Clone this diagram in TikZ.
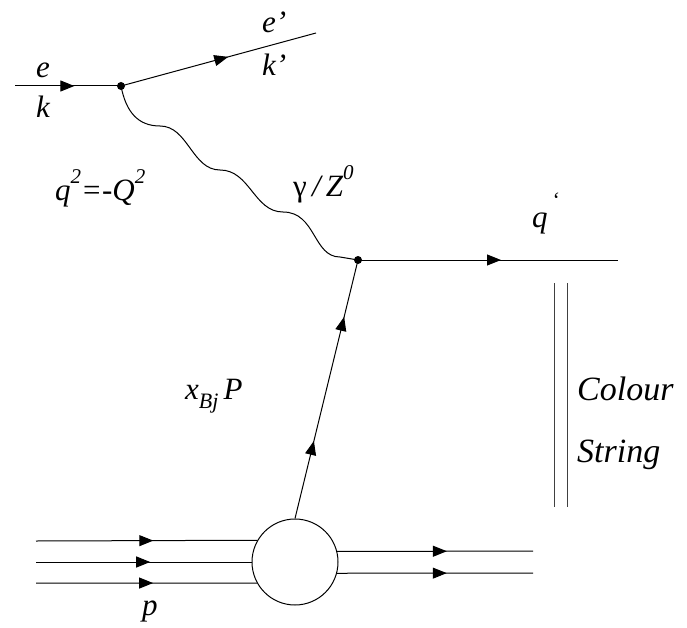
\documentclass[tikz,border=0pt]{standalone}
\usepackage{fontspec}
\setmainfont{Liberation Serif}
\newfontfamily\lsf{Liberation Serif}
\usetikzlibrary{arrows.meta,decorations.markings}
\begin{document}
\begin{tikzpicture}[x=1pt,y=-1pt,
  ln/.style={line width=1pt},
  arr/.style={postaction={decorate},decoration={markings,mark=at position #1 with {\arrow{Triangle[length=14pt,width=11pt]}}}},
  arrtwo/.style 2 args={postaction={decorate},decoration={markings,
     mark=at position #1 with {\arrow{Triangle[length=14pt,width=11pt]}},
     mark=at position #2 with {\arrow{Triangle[length=14pt,width=11pt]}}}},
  lbl/.style={font=\fontsize{31}{36}\selectfont\lsf\itshape, inner sep=0pt, anchor=base west},
  big/.style={font=\fontsize{34}{40}\selectfont\lsf\itshape, inner sep=0pt, anchor=base west},
  vdot/.style={circle,fill=black,inner sep=0pt,minimum size=8pt},
  strline/.style={line width=1pt, black!75}]
\useasboundingbox (0,0) rectangle (687,628);
% vertices
\coordinate (ein) at (15,86);
\node[vdot] (v1) at (121,86) {};
\coordinate (eout) at (316,33);
\node[vdot] (v2) at (358,260) {};
\coordinate (qout) at (618,260);
\node[circle,draw,line width=1pt,minimum size=86pt,inner sep=0pt] (blob) at (295,562) {};
% electron lines
\draw[ln,arr=0.56] (ein) -- (v1.center);
\draw[ln,arr=0.55] (v1.center) -- (eout);
% photon
\draw[ln] (v1.center) .. controls (126,112) and (138,126) .. (160,126)
  .. controls (188,126) and (192,170) .. (220,170)
  .. controls (250,170) and (254,212) .. (283,212)
  .. controls (316,212) and (313,257) .. (340,257) -- (v2.center);
% outgoing quark
\draw[ln,arr=0.55] (v2.center) -- (qout);
% quark from proton
\draw[ln,arrtwo={0.3}{0.78}] (blob.north) -- (v2.center);
% proton lines
\coordinate (p1) at (36,541);
\coordinate (p2) at (36,562);
\coordinate (p3) at (36,583);
\draw[ln,arr=0.53] (p1) -- (blob.150.8);
\draw[ln,arr=0.53] (p2) -- (blob.west);
\draw[ln,arr=0.53] (p3) -- (blob.209.2);
\coordinate (r1) at (533,551);
\coordinate (r2) at (533,573);
\draw[ln,arr=0.56] (blob.14.8) -- (r1);
\draw[ln,arr=0.56] (blob.345.2) -- (r2);
% colour string
\coordinate (s1a) at (554,283);
\coordinate (s1b) at (554,507);
\coordinate (s2a) at (567,283);
\coordinate (s2b) at (567,507);
\draw[strline] (s1a) -- (s1b);
\draw[strline] (s2a) -- (s2b);
% labels
\node[lbl] (le) at (36,78) {e};
\node[lbl] (lk) at (36,118) {k};
\node[lbl] (lep) at (262,33) {e’};
\node[lbl] (lkp) at (262,76) {k’};
\node[lbl] (lq2) at (55,201) {q\raisebox{0.55em}{\fontsize{21}{21}\selectfont 2}=-Q\raisebox{0.55em}{\fontsize{21}{21}\selectfont 2}};
\node[lbl] (lgz) at (293,197) {{\upshape γ}\,/\,Z\raisebox{0.55em}{\fontsize{21}{21}\selectfont 0}};
\node[lbl] (lqp) at (532,227) {q\kern4pt\raisebox{20pt}{\fontsize{22}{22}\selectfont ‘}};
\node[lbl] (lx) at (185,399) {x\raisebox{-0.3em}{\fontsize{22}{22}\selectfont Bj}\,P};
\node[big] (lc) at (577,400) {Colour};
\node[big] (ls) at (577,462) {String};
\node[lbl] (lp) at (142,615) {p};
\end{tikzpicture}
\end{document}
